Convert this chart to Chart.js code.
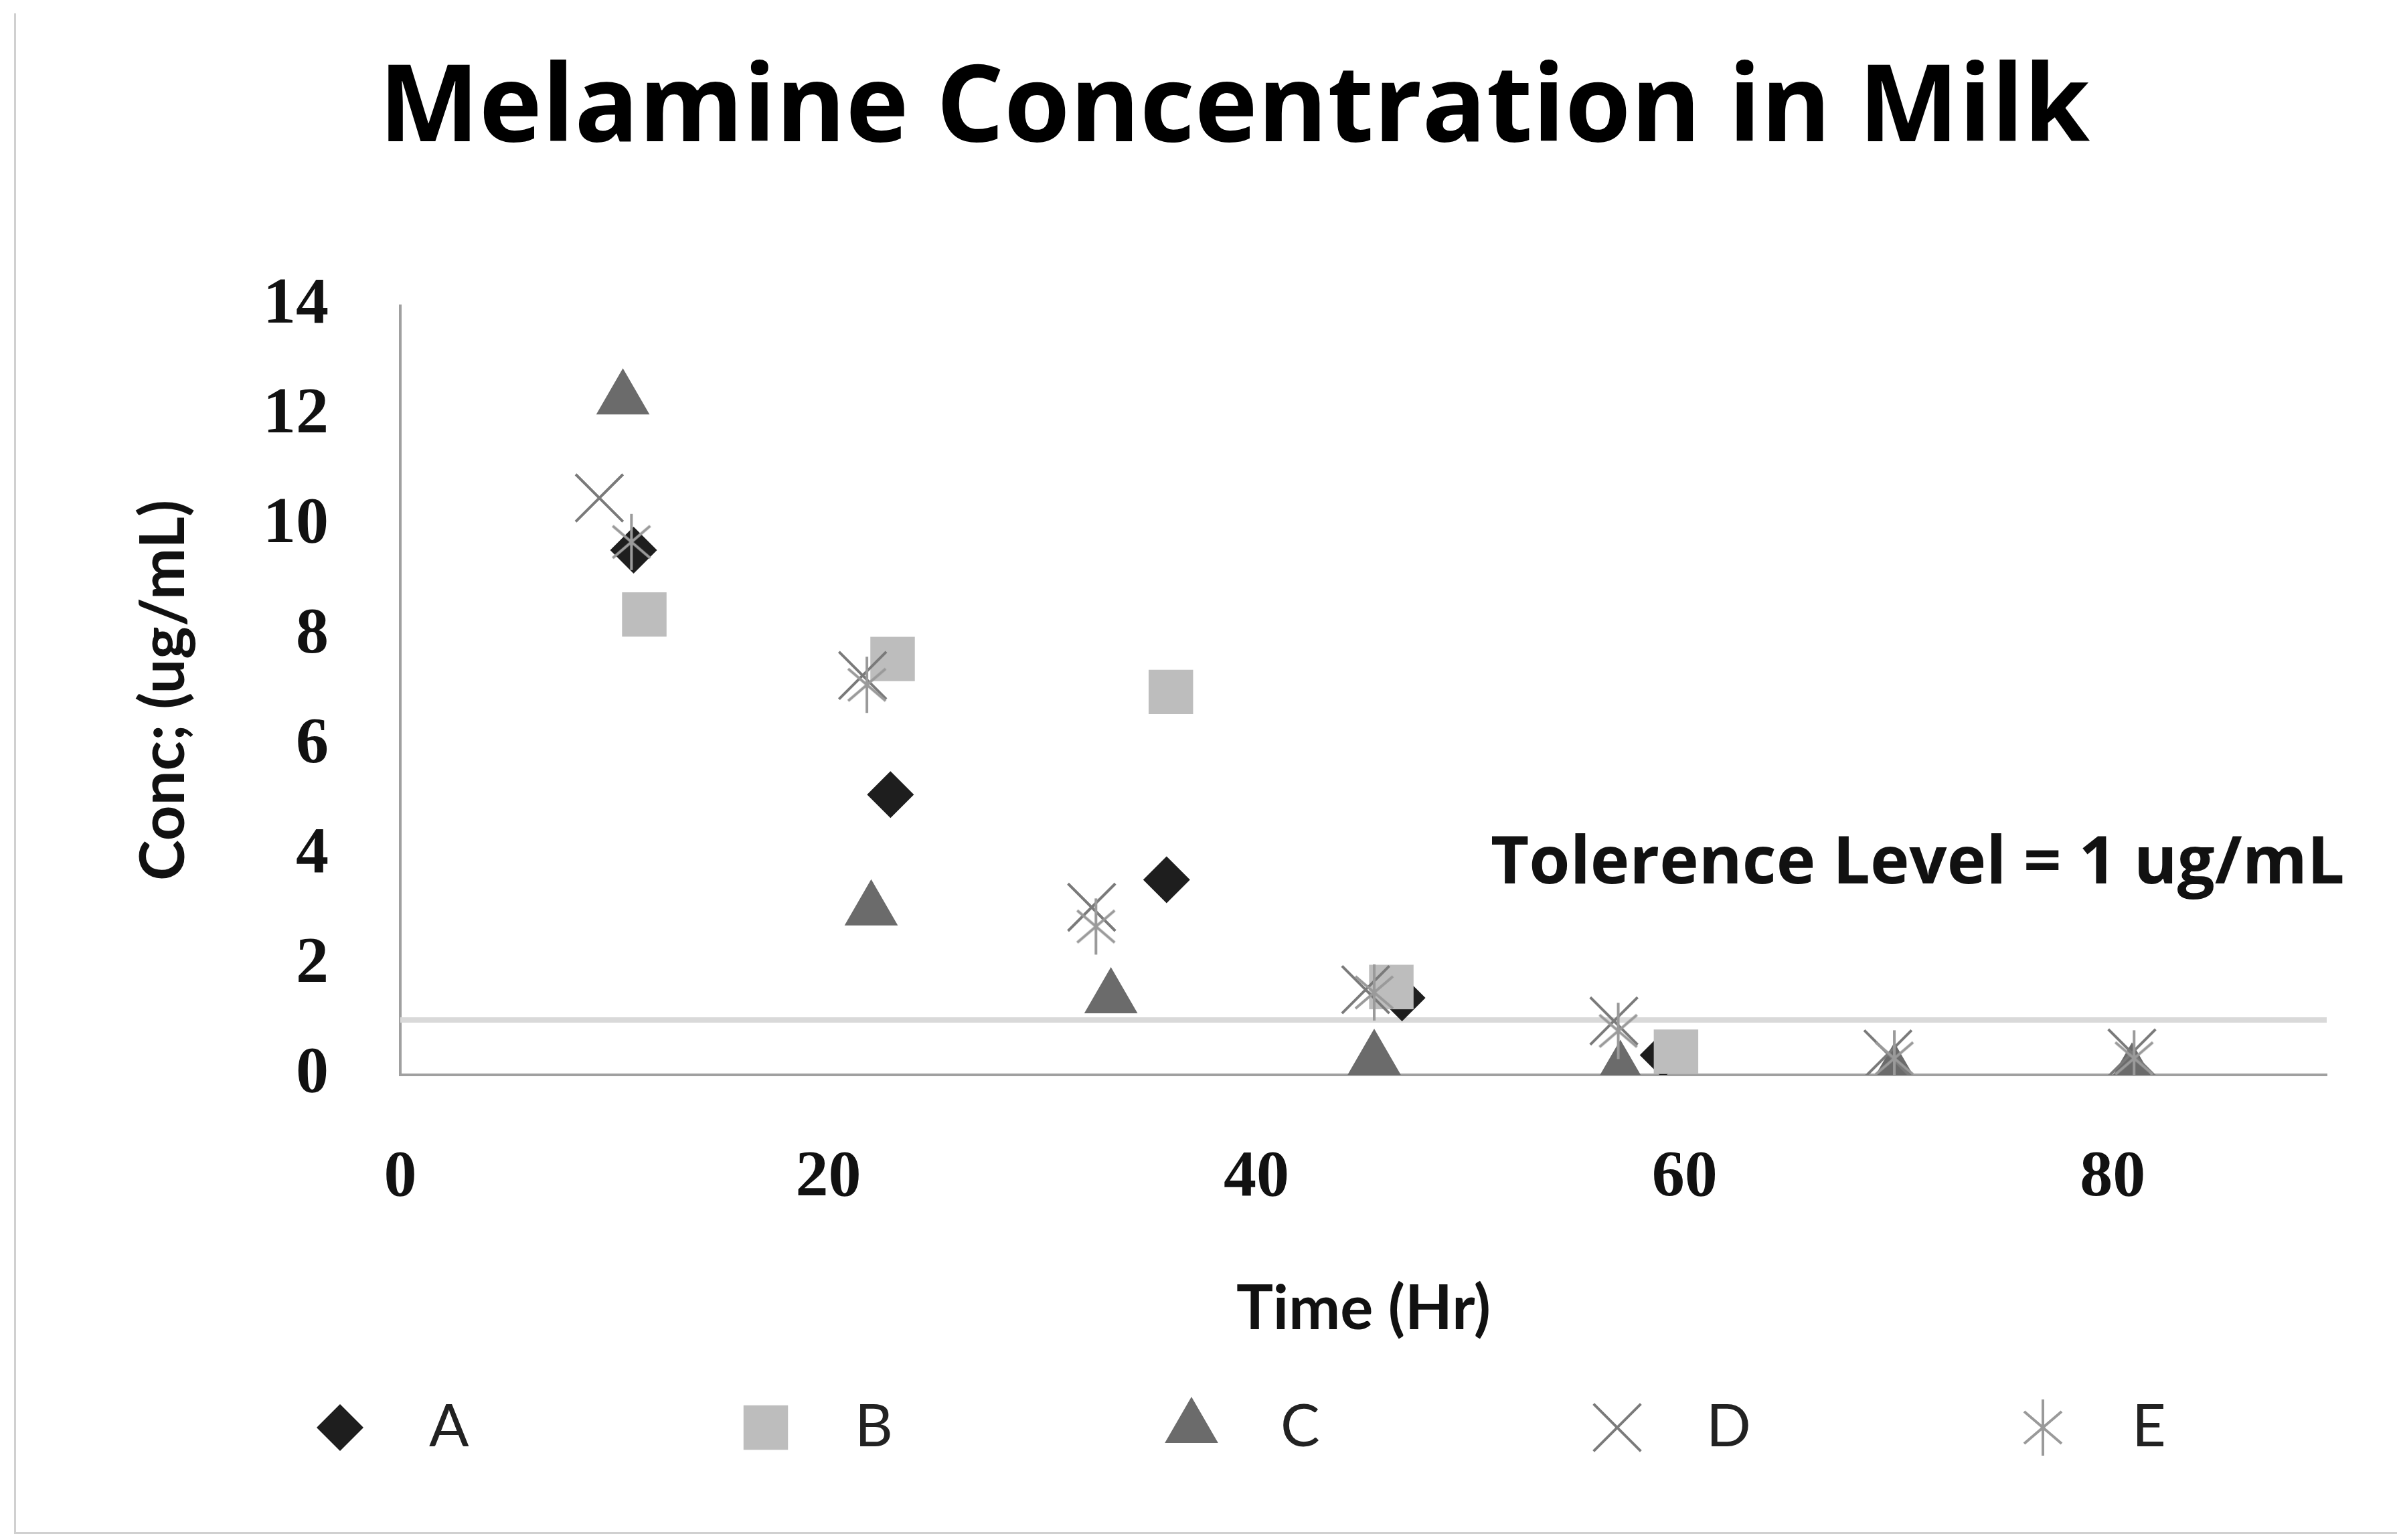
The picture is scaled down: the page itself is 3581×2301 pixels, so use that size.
<!DOCTYPE html>
<html>
<head>
<meta charset="utf-8">
<title>Melamine Concentration in Milk</title>
<script src="https://cdn.jsdelivr.net/npm/chart.js@4.4.0/dist/chart.umd.min.js"></script>
<style>
	html, body { margin: 0; padding: 0; background: #fff; overflow: hidden; }
	#frameLeft { position: absolute; left: 21px; top: 20px; width: 3px; height: 2271px; background: #d0d0d0; }
	#frameBottom { position: absolute; left: 21px; top: 2289px; width: 3600px; height: 3px; background: #d0d0d0; }
	#chart { position: absolute; left: 22px; top: 0; }
</style>
</head>
<body>
<div id="frameLeft"></div>
<div id="frameBottom"></div>
<canvas id="chart" width="3644" height="2290"></canvas>
<script>
// sample times (hr) and melamine concentration (ug/mL) per cow
const hoursA = [10.9, 22.9, 35.8, 46.8, 59.0];
const concA  = [9.55, 5.1, 3.55, 1.4, 0.36];
const hoursB = [11.4, 23.0, 36.0, 46.3, 59.6];
const concB  = [8.38, 7.57, 6.97, 1.6, 0.42];
const hoursC = [10.4, 22.0, 33.2, 45.5, 57.0, 69.8, 80.9];
const concC  = [12.3, 3.0, 1.4, 0.28, 0.08, 0.03, 0.03];
const hoursD = [9.3, 21.6, 32.3, 45.1, 56.7, 69.5, 80.9];
const concD  = [10.5, 7.27, 3.05, 1.55, 0.98, 0.38, 0.4];
const hoursE = [10.8, 21.8, 32.5, 45.5, 56.9, 69.8, 81.0];
const concE  = [9.7, 7.1, 2.7, 1.5, 0.8, 0.3, 0.3];

const seriesNames = ['A', 'B', 'C', 'D', 'E'];
const xTicks = [0, 20, 40, 60, 80];
const yTicks = [0, 2, 4, 6, 8, 10, 12, 14];
const toleranceLevel = 1;

const points = (xs, ys) => xs.map((x, i) => ({ x: x, y: ys[i] }));

// excel style "star" marker: an x with a vertical stroke through it
const starMark = document.createElement('canvas');
starMark.width = 100;
starMark.height = 100;
const sm = starMark.getContext('2d');
sm.strokeStyle = '#9a9a9a';
sm.lineWidth = 4;
sm.beginPath();
sm.moveTo(22, 26); sm.lineTo(78, 74);
sm.moveTo(78, 26); sm.lineTo(22, 74);
sm.moveTo(50, 8); sm.lineTo(50, 92);
sm.stroke();

const legendRow = {
	id: 'legendRow',
	afterDraw(chart) {
		const c = chart.ctx;
		const mid = chart.width / 2;
		c.save();
		chart.data.datasets.forEach(ds => {
			const k = seriesNames.indexOf(ds.label);
			if (k < 0) return;
			const px = mid + (k - 2) * 636 - 64;
			const py = 2133;
			c.fillStyle = ds.backgroundColor;
			c.strokeStyle = ds.borderColor;
			c.lineWidth = ds.borderWidth;
			Chart.helpers.drawPoint(c, {
				pointStyle: ds.pointStyle,
				radius: ds.pointRadius,
				rotation: 0,
				borderWidth: ds.borderWidth
			}, px, py);
			c.fillStyle = '#222';
			c.font = '88px Lato';
			c.textBaseline = 'middle';
			c.textAlign = 'left';
			c.fillText(ds.label, px + 133, py);
		});
		c.restore();
	}
};

const toleranceNote = {
	id: 'toleranceNote',
	afterDraw(chart) {
		const c = chart.ctx;
		c.save();
		c.font = 'bold 99px "Open Sans"';
		c.fillStyle = '#111';
		c.textBaseline = 'middle';
		c.textAlign = 'left';
		c.fillText('Tolerence Level = ' + toleranceLevel + ' ug/mL', 2205, 1292);
		c.restore();
	}
};

const ctx = document.getElementById('chart').getContext('2d');
const chart = new Chart(ctx, {
	type: 'scatter',
	data: {
		datasets: [
			{
				label: 'A',
				data: points(hoursA, concA),
				pointStyle: 'rectRot',
				pointRadius: 35,
				backgroundColor: '#1e1e1e',
				borderColor: '#1e1e1e',
				borderWidth: 0,
				order: 5
			},
			{
				label: 'B',
				data: points(hoursB, concB),
				pointStyle: 'rect',
				pointRadius: 47,
				backgroundColor: '#bdbdbd',
				borderColor: '#bdbdbd',
				borderWidth: 0,
				order: 4
			},
			{
				label: 'C',
				data: points(hoursC, concC),
				pointStyle: 'triangle',
				pointRadius: 46,
				backgroundColor: '#6b6b6b',
				borderColor: '#6b6b6b',
				borderWidth: 0,
				order: 3
			},
			{
				label: 'D',
				data: points(hoursD, concD),
				pointStyle: 'crossRot',
				pointRadius: 50,
				backgroundColor: '#7a7a7a',
				borderColor: '#7a7a7a',
				borderWidth: 4,
				order: 2
			},
			{
				label: 'E',
				data: points(hoursE, concE),
				pointStyle: starMark,
				pointRadius: 45,
				backgroundColor: '#9a9a9a',
				borderColor: '#9a9a9a',
				borderWidth: 0,
				order: 1
			},
			{
				label: 'Tolerance',
				data: [{ x: 0, y: toleranceLevel }, { x: 90, y: toleranceLevel }],
				showLine: true,
				borderColor: '#d9d9d9',
				borderWidth: 8,
				pointRadius: 0,
				order: 6
			}
		]
	},
	options: {
		responsive: false,
		animation: false,
		devicePixelRatio: 1,
		plugins: {
			legend: { display: false },
			tooltip: { enabled: false },
			title: {
				display: true,
				text: 'Melamine Concentration in Milk',
				color: '#000',
				font: { family: 'Open Sans', size: 159, weight: 'bold' },
				padding: { top: 70, bottom: 196 }
			}
		},
		scales: {
			x: {
				type: 'linear',
				min: 0,
				max: 90,
				afterBuildTicks: scale => { scale.ticks = xTicks.map(v => ({ value: v })); },
				afterFit: scale => { scale.height = 684; },
				grid: { display: false, drawTicks: false },
				border: { display: true, color: '#a0a0a0', width: 4 },
				ticks: {
					padding: 96,
					color: '#111',
					font: { family: 'Liberation Serif', size: 98, weight: 'bold' }
				},
				title: {
					display: true,
					text: 'Time (Hr)',
					color: '#111',
					font: { family: 'Lato', size: 92, weight: 'bold' },
					padding: { top: 0, bottom: 278 }
				}
			},
			y: {
				min: 0,
				max: 14,
				afterBuildTicks: scale => { scale.ticks = yTicks.map(v => ({ value: v })); },
				afterFit: scale => { scale.width = 576; },
				grid: { display: false, drawTicks: false },
				border: { display: true, color: '#a0a0a0', width: 4 },
				ticks: {
					padding: 107,
					color: '#111',
					font: { family: 'Liberation Serif', size: 98, weight: 'bold' }
				},
				title: {
					display: true,
					text: 'Conc; (ug/mL)',
					color: '#111',
					font: { family: 'Lato', size: 92, weight: 'bold' },
					padding: { top: 168, bottom: 0 }
				}
			},
			// empty right-hand margin, keeps the title centred on the whole frame
			yRight: {
				position: 'right',
				afterFit: scale => { scale.width = 190; },
				grid: { display: false, drawTicks: false },
				border: { display: false },
				ticks: { display: false }
			}
		}
	},
	plugins: [legendRow, toleranceNote]
});
</script>
</body>
</html>
